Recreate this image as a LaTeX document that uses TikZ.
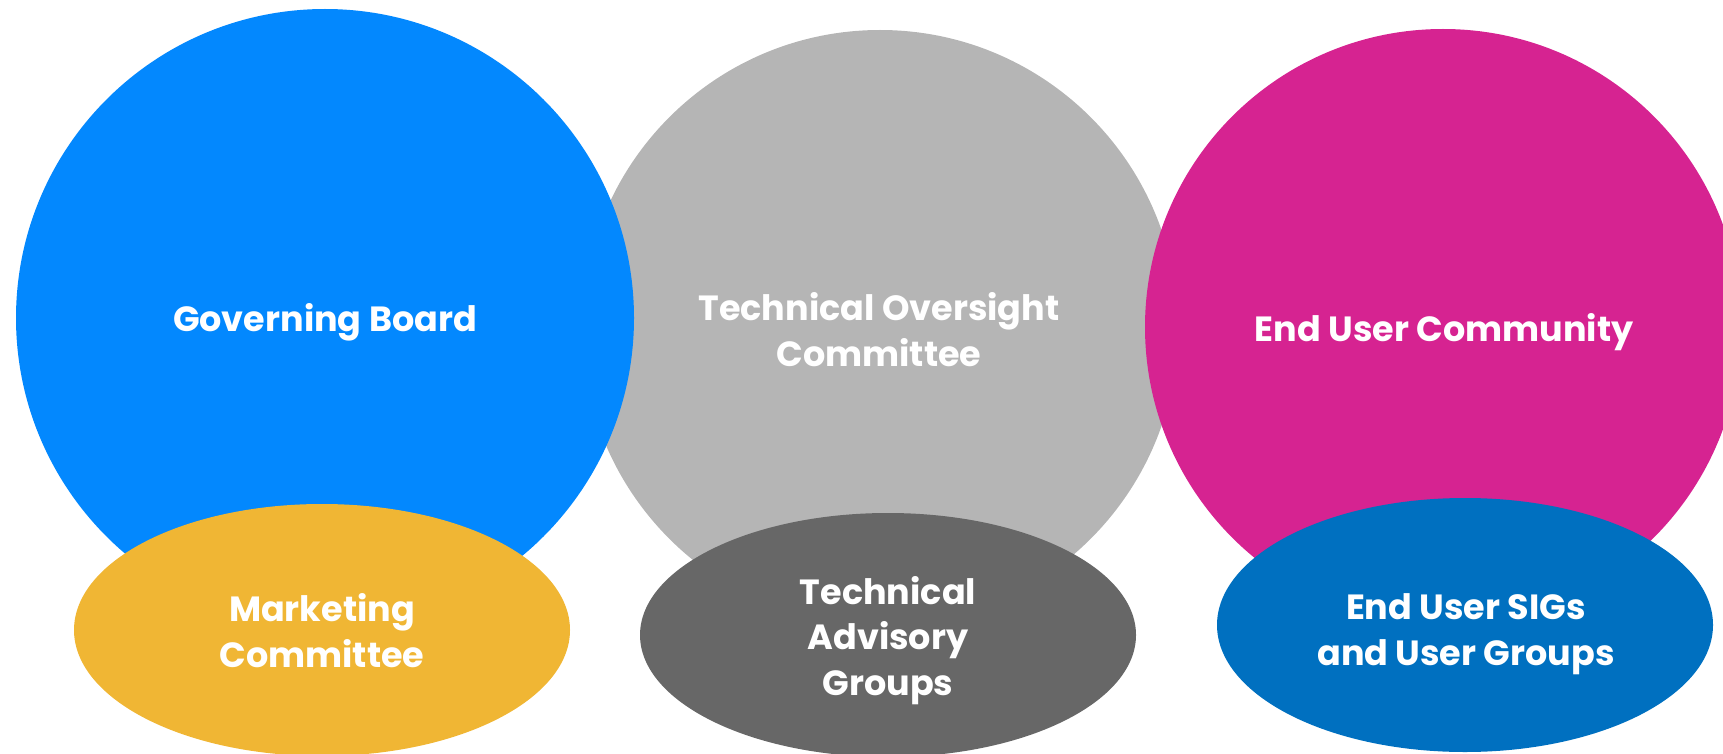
\documentclass[tikz,border=0pt]{standalone}
\usepackage{fontspec}
\setmainfont{Poppins}
\usetikzlibrary{shapes.geometric}
\definecolor{cblue}{HTML}{0388FE}
\definecolor{cgray}{HTML}{B5B5B5}
\definecolor{cmag}{HTML}{D62391}
\definecolor{cyel}{HTML}{F0B634}
\definecolor{cdark}{HTML}{676767}
\definecolor{cblue2}{HTML}{0070C0}
\tikzset{
  bigc/.style={circle, minimum size=596pt, inner sep=0pt, draw=none},
  ell/.style={ellipse, minimum width=496pt, minimum height=252pt, inner sep=0pt, draw=none},
  lbl/.style={text=white, font=\fontsize{35}{45.5}\selectfont\bfseries, align=center, anchor=base, inner sep=0pt}
}
\begin{document}
\begin{tikzpicture}[x=1pt,y=-1pt]
\useasboundingbox (0,0) rectangle (1723,754);
\clip (0,0) rectangle (1723,754);
\node[bigc, fill=cgray] (toc) at (880,328) {};
\node[bigc, fill=cblue, minimum size=618pt] (gb) at (325,318) {};
\node[bigc, fill=cmag] (euc) at (1443,327) {};
\node[ell, fill=cyel] (mc) at (322,630) {};
\node[ell, fill=cdark, minimum height=244pt] (tag) at (888,635) {};
\node[ell, fill=cblue2, minimum height=254pt] (sig) at (1465,625) {};
\node[lbl] (tgb) at (325,331) {Governing Board};
\node[lbl] (ttoc) at (879,366) {Technical Oversight\\Committee};
\node[lbl] (teuc) at (1444,341) {End User Community};
\node[lbl] (tmc) at (322,667) {Marketing\\Committee};
\node[lbl] (ttag) at (888,695) {Technical\\Advisory\\Groups};
\node[lbl] (tsig) at (1466,665) {End User SIGs\\and User Groups};
\end{tikzpicture}
\end{document}
